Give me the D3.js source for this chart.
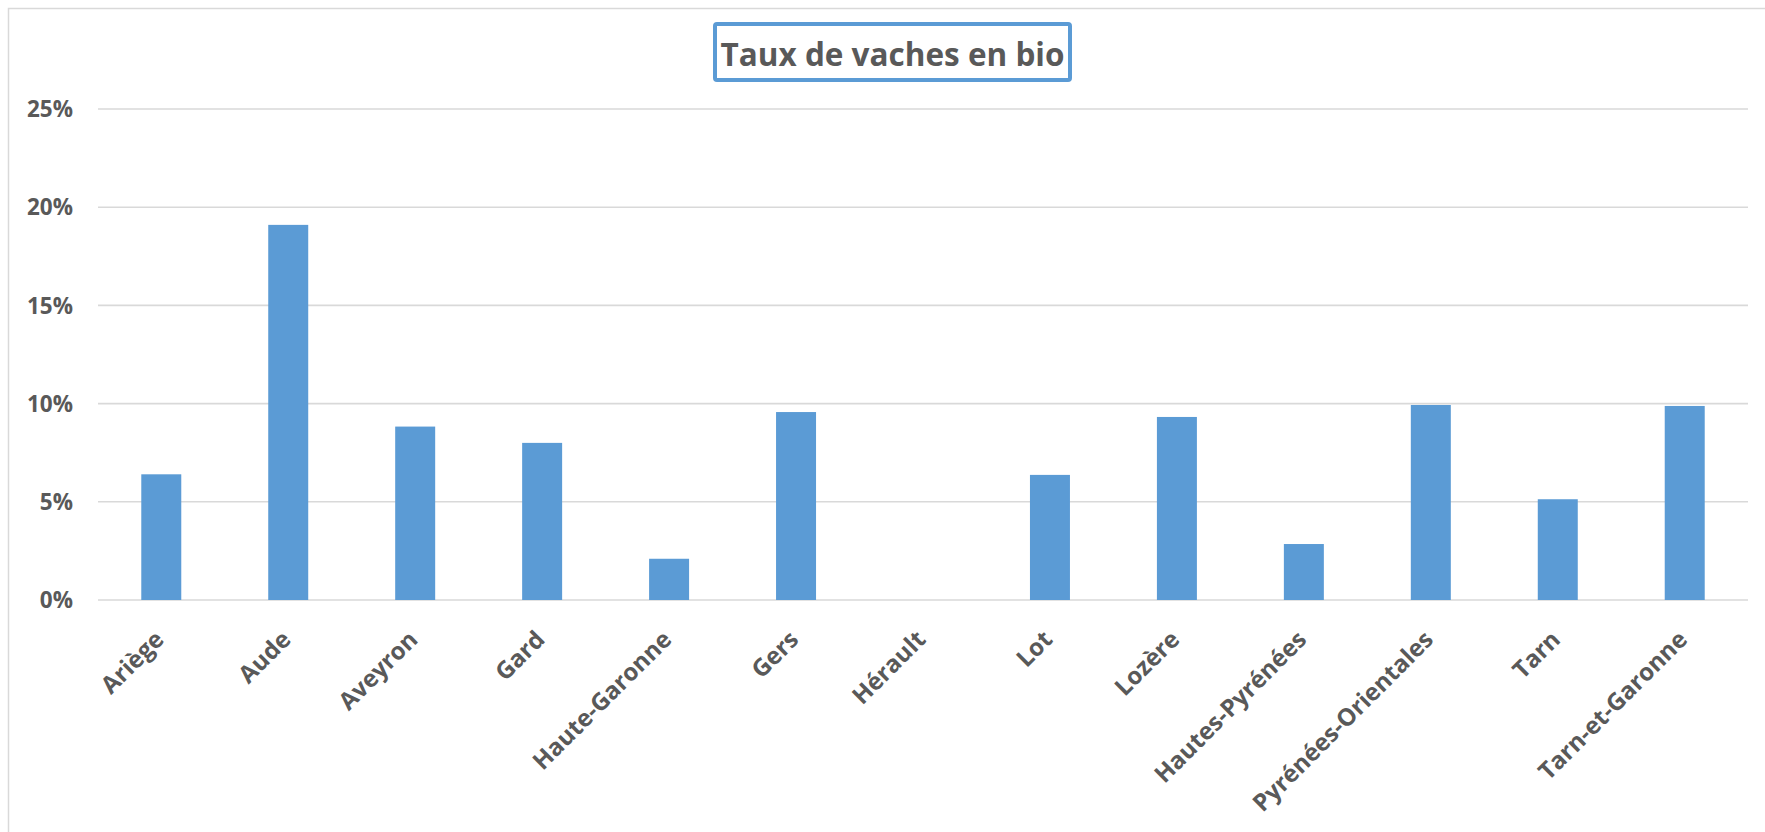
<!DOCTYPE html>
<html>
<head>
<meta charset="utf-8">
<script src="https://cdn.jsdelivr.net/npm/d3@7"></script>
<style>
  html, body { margin: 0; padding: 0; background: #fff; }
  svg { display: block; }
</style>
</head>
<body>
<script>
const categories = ["Ariège", "Aude", "Aveyron", "Gard", "Haute-Garonne", "Gers", "Hérault",
  "Lot", "Lozère", "Hautes-Pyrénées", "Pyrénées-Orientales", "Tarn", "Tarn-et-Garonne"];
const values = [0.064, 0.191, 0.0883, 0.080, 0.021, 0.0957, 0, 0.0637, 0.0932, 0.0285, 0.0993, 0.0513, 0.0988];
const yTicks = [0, 0.05, 0.10, 0.15, 0.20, 0.25];
const title = "Taux de vaches en bio";

const W = 1765, H = 832;
const FONT = "'Open Sans', 'Liberation Sans', sans-serif";
const TXT = "#595959";
const GRID = "#d9d9d9";
const BAR = "#5B9BD5";

const svg = d3.select("body").append("svg").attr("width", W).attr("height", H);

svg.append("rect").attr("x", 0).attr("y", 0).attr("width", W).attr("height", H).attr("fill", "#fff");
// chart area border
svg.append("rect").attr("x", 8.5).attr("y", 8.5).attr("width", 1800).attr("height", 900)
  .attr("fill", "none").attr("stroke", GRID).attr("stroke-width", 1.5);

const x = d3.scaleBand().domain(categories).range([97.8, 1748.2])
  .paddingInner(0.685).paddingOuter(0.3425);
const y = d3.scaleLinear().domain([0, 0.25]).range([600, 109]);

// gridlines
svg.append("g").selectAll("line").data(yTicks).join("line")
  .attr("x1", 98).attr("x2", 1748)
  .attr("y1", d => y(d)).attr("y2", d => y(d))
  .attr("stroke", GRID).attr("stroke-width", 1.6);

// y labels
svg.append("g").selectAll("text").data(yTicks).join("text")
  .attr("x", 73).attr("y", d => y(d))
  .attr("dy", "0.36em")
  .attr("text-anchor", "end")
  .attr("font-family", FONT).attr("font-weight", 700).attr("font-size", 22.5)
  .attr("fill", TXT)
  .text(d => d3.format(".0%")(d));

// bars
svg.append("g").selectAll("rect").data(values).join("rect")
  .attr("x", (d, i) => x(categories[i]))
  .attr("width", x.bandwidth())
  .attr("y", d => y(d))
  .attr("height", d => y(0) - y(d))
  .attr("fill", BAR);

// x labels
svg.append("g").selectAll("text").data(categories).join("text")
  .attr("transform", d => `translate(${x(d) + x.bandwidth() / 2 + 4},641) rotate(-45)`)
  .attr("text-anchor", "end")
  .attr("font-family", FONT).attr("font-weight", 700).attr("font-size", 24)
  .attr("fill", TXT)
  .text(d => d);

// title box
svg.append("rect").attr("x", 715).attr("y", 24).attr("width", 355).attr("height", 56)
  .attr("rx", 2).attr("fill", "#fff").attr("stroke", BAR).attr("stroke-width", 4);
svg.append("text").attr("x", 892.5).attr("y", 66)
  .attr("text-anchor", "middle")
  .attr("font-family", FONT).attr("font-weight", 700).attr("font-size", 31.5)
  .attr("fill", TXT)
  .text(title);
</script>
</body>
</html>
